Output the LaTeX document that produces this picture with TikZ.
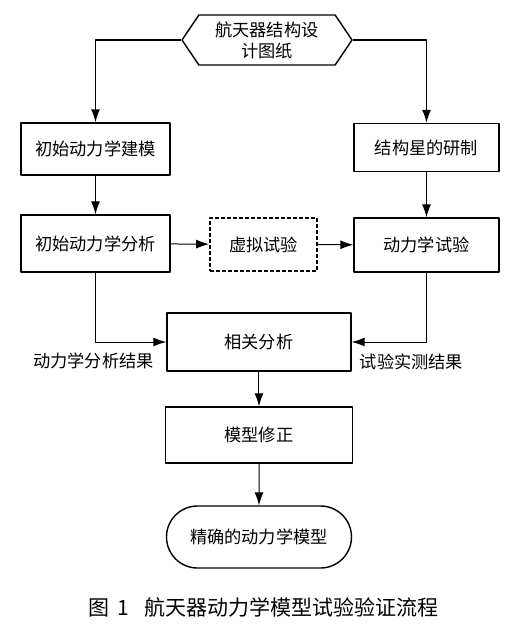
\documentclass[tikz,border=0pt]{standalone}
\usepackage{fontspec}
\newfontfamily\cjk{Noto Sans CJK SC}
\usetikzlibrary{arrows.meta,positioning,shapes.misc,shapes.symbols}
\tikzset{
  box/.style={draw,line width=0.7pt,inner sep=1pt,font=\cjk\fontsize{8.6}{10.5}\selectfont},
  hexbox/.style={box,signal,signal to=west and east,signal pointer angle=112,align=center},
  dashbox/.style={box,dash pattern=on 2pt off 1pt,line width=0.9pt},
  endbox/.style={box,rounded rectangle},
  lbl/.style={inner sep=0pt,font=\cjk\fontsize{8.6}{10.5}\selectfont},
  arr/.style={line width=0.5pt,-{Latex[length=6.5pt,width=4.5pt]}}
}
\begin{document}
\begin{tikzpicture}[x=0.5pt,y=-0.5pt,line join=round]
\useasboundingbox (0,0) rectangle (528,634);
% top
\node[hexbox,minimum width=85pt,minimum height=25pt] (plan) at (267,40) {航天器结构设\\计图纸};
\node[box,minimum width=74.5pt,minimum height=26pt] (model) at (95.5,149) {初始动力学建模};
\node[box,minimum width=72.5pt,minimum height=24pt] (sat) at (426.5,147.5) {结构星的研制};
% middle row
\node[box,minimum width=74.5pt,minimum height=28.5pt] (ana) at (95.5,243.5) {初始动力学分析};
\node[dashbox,minimum width=53.5pt,minimum height=26.5pt] (virt) at (263.5,244.5) {虚拟试验};
\node[box,minimum width=72.5pt,minimum height=27pt] (test) at (426.5,245) {动力学试验};
% bottom
\node[box,minimum width=92pt,minimum height=29pt] (corr) at (259,342) {相关分析};
\node[box,minimum width=93.5pt,minimum height=28pt] (upd) at (259,435) {模型修正};
\node[endbox,minimum width=94.5pt,minimum height=31pt] (res) at (259,537) {精确的动力学模型};
\node[lbl] (anares) at (93.5,361) {动力学分析结果};
\node[lbl] (testres) at (411.5,362) {试验实测结果};
\node[lbl,font=\cjk\fontsize{10.5}{12}\selectfont] (cap) at (263.5,607) {图\hspace{4pt}1\hspace{8pt}航天器动力学模型试验验证流程};
% connectors
\draw[arr,line width=0.7pt] (plan.west) -| (model.north);
\draw[arr,line width=0.7pt] (plan.east) -| (sat.north);
\draw[arr] (model) -- (ana);
\draw[arr] (sat) -- (test);
\draw[arr] (ana) -- (virt);
\draw[arr] (virt) -- (test);
\draw[arr] (ana.south) |- (corr.west);
\draw[arr] (test.south) |- (corr.east);
\draw[arr] (corr) -- (upd);
\draw[arr] (upd) -- (res);
\end{tikzpicture}
\end{document}
